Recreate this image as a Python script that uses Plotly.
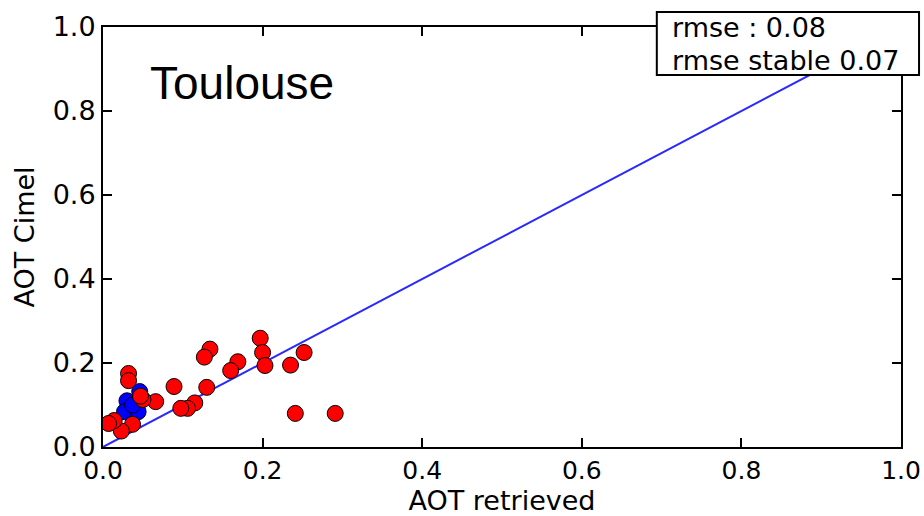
import plotly.graph_objects as go

# Red points (all data)
red_x = [0.197, 0.200, 0.203, 0.134, 0.127, 0.169, 0.160, 0.235, 0.252, 0.241, 0.291,
         0.130, 0.089, 0.066, 0.115, 0.106, 0.0975, 0.032, 0.032, 0.050, 0.047,
         0.037, 0.023, 0.014, 0.007]
red_y = [0.259, 0.225, 0.194, 0.233, 0.214, 0.203, 0.182, 0.195, 0.225, 0.080, 0.080,
         0.142, 0.144, 0.108, 0.105, 0.092, 0.092, 0.175, 0.158, 0.113, 0.121,
         0.054, 0.038, 0.063, 0.056]
# Blue points (stable)
blue_x = [0.046, 0.030, 0.027, 0.044, 0.037]
blue_y = [0.132, 0.110, 0.084, 0.084, 0.100]
# 1:1 line
line_x = [0.0, 1.0]
line_y = [0.0, 1.0]

rmse_all = 0.08
rmse_stable = 0.07

fig = go.Figure()
fig.add_trace(go.Scatter(x=line_x, y=line_y, mode="lines",
                         line=dict(color="#2a2aff", width=2), showlegend=False, hoverinfo="skip"))
fig.add_trace(go.Scatter(x=blue_x, y=blue_y, mode="markers",
                         marker=dict(color="#0000ff", size=16, line=dict(color="black", width=1)),
                         showlegend=False))
fig.add_trace(go.Scatter(x=red_x, y=red_y, mode="markers",
                         marker=dict(color="#ff0000", size=16, line=dict(color="black", width=1)),
                         showlegend=False))

axis_common = dict(range=[0, 1], showgrid=False, zeroline=False, showline=True,
                   linecolor="black", linewidth=2, mirror="ticks", ticks="inside",
                   ticklen=9, tickwidth=1.5, tickcolor="black", dtick=0.2,
                   tickformat=".1f", automargin=False)

fig.update_layout(
    width=924, height=516,
    margin=dict(l=103, r=23, t=27, b=69),
    paper_bgcolor="white", plot_bgcolor="white",
    font=dict(family="DejaVu Sans", color="black", size=26),
    xaxis=dict(**axis_common, tickfont=dict(size=25),
               title=dict(text="AOT retrieved", font=dict(size=27), standoff=8)),
    yaxis=dict(**axis_common, tickfont=dict(size=27),
               title=dict(text="AOT Cimel", font=dict(size=27), standoff=10)),
    shapes=[
        dict(type="rect", xref="paper", yref="paper", x0=0.694, x1=1.0226, y0=0.886, y1=1.0357,
             fillcolor="white", line=dict(color="black", width=2), layer="above"),
    ],
    annotations=[
        dict(x=0.057, y=0.867, xref="x", yref="y", text="Toulouse", showarrow=False,
             xanchor="left", yanchor="middle",
             font=dict(family="Liberation Sans", size=46, color="black")),
        dict(x=0.7105, y=0.998, xref="paper", yref="paper", text=f"rmse : {rmse_all:.2f}",
             showarrow=False, xanchor="left", yanchor="middle",
             font=dict(family="DejaVu Sans", size=27, color="black")),
        dict(x=0.7105, y=0.921, xref="paper", yref="paper", text=f"rmse stable {rmse_stable:.2f}",
             showarrow=False, xanchor="left", yanchor="middle",
             font=dict(family="DejaVu Sans", size=27, color="black")),
    ],
)

fig.write_html("out.html")
